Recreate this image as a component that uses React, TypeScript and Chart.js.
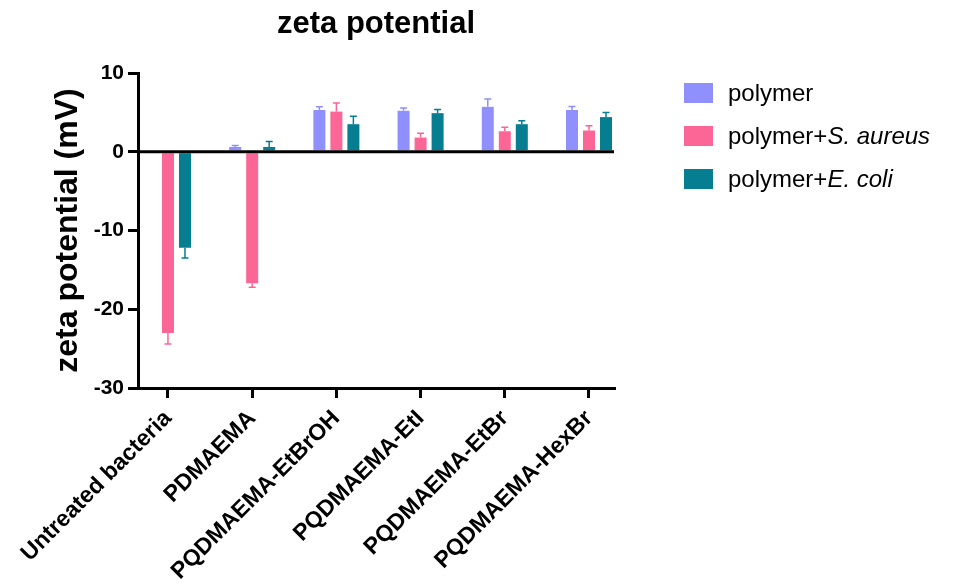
import React, { useEffect, useRef } from "react";
import { Chart, registerables } from "chart.js";

Chart.register(...registerables);

const categories = [
  "Untreated bacteria",
  "PDMAEMA",
  "PQDMAEMA-EtBrOH",
  "PQDMAEMA-EtI",
  "PQDMAEMA-EtBr",
  "PQDMAEMA-HexBr",
];

const polymer = [null, 0.6, 5.3, 5.2, 5.7, 5.3];
const polymerErr = [null, 0.2, 0.4, 0.35, 1.0, 0.45];

const polymerSAureus = [-23.0, -16.7, 5.1, 1.8, 2.6, 2.7];
const polymerSAureusErr = [1.4, 0.5, 1.1, 0.55, 0.5, 0.6];

const polymerEColi = [-12.2, 0.6, 3.5, 4.9, 3.5, 4.4];
const polymerEColiErr = [1.3, 0.7, 1.0, 0.45, 0.45, 0.6];

const yTicks = [-30, -20, -10, 0, 10];

const COLORS = ["#8f8ffd", "#fb6697", "#057e92"];
const FONT = 'Arial, "Liberation Sans", Helvetica, sans-serif';

const seriesValues = [polymer, polymerSAureus, polymerEColi];
const seriesErrors = [polymerErr, polymerSAureusErr, polymerEColiErr];

// One-sided error bars drawn away from zero, plus the heavy zero line and title
const decorations = {
  id: "decorations",
  afterDatasetsDraw(chart: any) {
    const { ctx, chartArea, scales } = chart;
    const y = scales.y;
    ctx.save();
    seriesValues.forEach((vals, di) => {
      const meta = chart.getDatasetMeta(di);
      vals.forEach((v, i) => {
        const e = seriesErrors[di][i];
        if (v == null || e == null) return;
        const bar = meta.data[i];
        if (!bar) return;
        const x = bar.x;
        const y0 = y.getPixelForValue(v);
        const y1 = y.getPixelForValue(v >= 0 ? v + e : v - e);
        ctx.strokeStyle = COLORS[di];
        ctx.lineWidth = 1.5;
        ctx.beginPath();
        ctx.moveTo(x, y0);
        ctx.lineTo(x, y1);
        ctx.moveTo(x - 3.5, y1);
        ctx.lineTo(x + 3.5, y1);
        ctx.stroke();
      });
    });
    const zy = y.getPixelForValue(0);
    ctx.strokeStyle = "#000";
    ctx.lineWidth = 3;
    ctx.beginPath();
    ctx.moveTo(chartArea.left, zy);
    ctx.lineTo(chartArea.right, zy);
    ctx.stroke();

    ctx.fillStyle = "#000";
    ctx.font = `bold 31px ${FONT}`;
    ctx.textAlign = "center";
    ctx.textBaseline = "alphabetic";
    ctx.fillText("zeta potential", (chartArea.left + chartArea.right) / 2, 33);
    ctx.restore();
  },
};

export default function App() {
  const ref = useRef<HTMLCanvasElement>(null);

  useEffect(() => {
    if (!ref.current) return;
    const labels = ["polymer", "polymer+S. aureus", "polymer+E. coli"];
    const chart = new Chart(ref.current, {
      type: "bar",
      data: {
        datasets: seriesValues.map((vals, di) => ({
          label: labels[di],
          data: vals.map((v, i) => ({ x: i, y: v })),
          backgroundColor: COLORS[di],
          borderWidth: 0,
          categoryPercentage: 0.606,
          barPercentage: 0.706,
        })),
      },
      options: {
        responsive: false,
        animation: false,
        devicePixelRatio: 1,
        layout: { padding: { left: 0, right: 341, top: 73, bottom: 0 } },
        plugins: {
          legend: { display: false },
          tooltip: { enabled: false },
          title: { display: false },
        },
        scales: {
          x: {
            type: "linear",
            min: -0.356,
            max: 5.297,
            offset: false,
            afterBuildTicks: (s: any) => {
              s.ticks = categories.map((_, i) => ({ value: i }));
            },
            afterFit: (s: any) => {
              s.height = 199;
            },
            border: { display: true, color: "#000", width: 3 },
            grid: {
              display: true,
              offset: false,
              drawOnChartArea: false,
              drawTicks: true,
              tickLength: 10,
              color: "#000",
              lineWidth: 3,
            },
            ticks: {
              autoSkip: false,
              minRotation: 45,
              maxRotation: 45,
              padding: 7,
              color: "#000",
              font: { family: FONT, size: 23, weight: "bold" },
              callback: (v: any) => categories[v as number] ?? "",
            },
          },
          y: {
            min: -30,
            max: 10,
            afterBuildTicks: (s: any) => {
              s.ticks = yTicks.map((v) => ({ value: v }));
            },
            afterFit: (s: any) => {
              s.width = 138;
            },
            border: { display: true, color: "#000", width: 3 },
            grid: {
              display: true,
              drawOnChartArea: false,
              drawTicks: true,
              tickLength: 10,
              color: "#000",
              lineWidth: 3,
            },
            ticks: {
              padding: 4,
              color: "#000",
              font: { family: FONT, size: 21, weight: "bold" },
            },
            title: {
              display: true,
              text: "zeta potential (mV)",
              color: "#000",
              padding: { top: 49, bottom: 0 },
              font: { family: FONT, size: 32, weight: "bold" },
            },
          },
        },
      },
      plugins: [decorations],
    } as any);
    return () => chart.destroy();
  }, []);

  const legendRows = [
    { color: COLORS[0], main: "polymer", italic: "" },
    { color: COLORS[1], main: "polymer+", italic: "S. aureus" },
    { color: COLORS[2], main: "polymer+", italic: "E. coli" },
  ];

  return (
    <div style={{ position: "fixed", left: 0, top: 0, width: 955, height: 587, background: "#fff" }}>
      <canvas ref={ref} width={955} height={587} style={{ display: "block" }} />
      {legendRows.map((r, i) => (
        <div
          key={i}
          style={{
            position: "absolute",
            left: 684,
            top: 93 + i * 43 - 15,
            height: 30,
            display: "flex",
            alignItems: "center",
            fontFamily: FONT,
            fontSize: 24,
            color: "#000",
            whiteSpace: "nowrap",
          }}
        >
          <span style={{ display: "inline-block", width: 29, height: 20, background: r.color, marginRight: 15 }} />
          <span>
            {r.main}
            {r.italic ? <i>{r.italic}</i> : null}
          </span>
        </div>
      ))}
    </div>
  );
}
